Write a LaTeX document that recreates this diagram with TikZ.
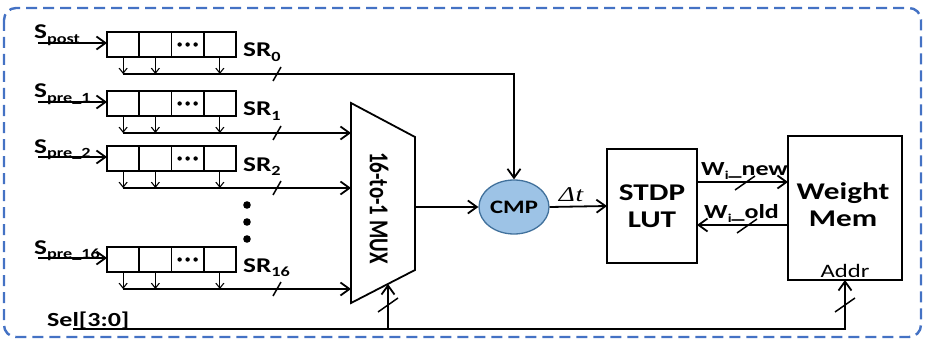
\documentclass[tikz,border=0pt]{standalone}
\usepackage{fontspec}
\setmainfont{Carlito}[FakeStretch=1.3]
\newfontfamily\muxfont{Carlito}
\newfontfamily\dtfont{Liberation Serif}
\usetikzlibrary{arrows.meta,calc,shapes.geometric}
\definecolor{frameblue}{RGB}{68,114,196}
\definecolor{cmpfill}{RGB}{157,195,230}
\definecolor{cmpline}{RGB}{65,113,156}
\newcommand\lowsub[2][14]{\raisebox{-0.22em}{\fontsize{#1}{#1}\selectfont #2}}
\begin{document}
\begin{tikzpicture}[x=1pt,y=-1pt,
  cell/.style={draw, line width=1.6pt, minimum width=32.25pt, minimum height=25pt, inner sep=0pt, outer sep=0pt},
  wire/.style={line width=1.8pt},
  arr/.style={wire, -{Straight Barb[length=9pt,width=13pt]}},
  tap/.style={line width=1.1pt, -{Straight Barb[length=5pt,width=8pt]}},
  blk/.style={draw, line width=1.8pt, inner sep=0pt, outer sep=0pt},
  slash/.style={line width=1.5pt},
  nslash/.pic={\draw[slash] (-4,7) -- (4,-7);},
  wslash/.pic={\draw[slash] (-10,7) -- (10,-7);},
  lbl/.style={inner sep=0pt, anchor=base west}]
\useasboundingbox (0,0) rectangle (927,345);
% frame
\draw[frameblue, line width=2.4pt, dash pattern=on 11pt off 6pt, rounded corners=12pt] (4,8) rectangle (921,337);
% shift register rows
\foreach \r/\t/\inl/\srl in {0/32/post/0,1/91/pre\_1/1,2/146/pre\_2/2,16/247/pre\_16/16}{
  \foreach \k in {1,2,3,4}
    \node[cell] (c\r-\k) at ({107+32.25*\k-16.125},{\t+12.5}) {};
  \foreach \dx in {-8,0,8}
    \fill ($(c\r-3)+(\dx,0)$) circle (2.2);
  \coordinate (in\r) at (38,{\t+11});
  \draw[arr] (in\r) -- (in\r -| c\r-1.west);
  \node[lbl] (inl\r) at (34,{\t+7}) {\fontsize{21}{21}\selectfont\bfseries S\lowsub{\inl}};
  \node[lbl] (srl\r) at (243,{\t+25}) {\fontsize{21}{21}\selectfont\bfseries SR\lowsub{\srl}};
  \coordinate (bus\r) at ({107+16.125},{\t+42});
  \foreach \k in {1,2,4}
    \draw[tap] (c\r-\k.south) -- (c\r-\k.south |- bus\r);
  \pic at (277,{\t+42}) {nslash};
}
% dots
\fill (247,205) circle (3.8);
\fill (247,222) circle (3.8);
\fill (247,239) circle (3.8);
% MUX
\coordinate (muxTL) at (351,103);
\coordinate (muxTR) at (415,137);
\coordinate (muxBR) at (415,270);
\coordinate (muxBL) at (351,303);
\coordinate (muxout) at (415,207);
\coordinate (muxsel) at (388,284);
\draw[wire, line join=miter] (muxTL) -- (muxTR) -- (muxBR) -- (muxBL) -- cycle;
\node[rotate=-90] (muxlbl) at (379,208) {\muxfont\bfseries\fontsize{21}{21}\selectfont\scalebox{1}[1.3]{16-to-1 MUX}};
\foreach \r in {1,2,16}
  \draw[arr] (bus\r) -- (bus\r -| muxTL);
% CMP
\node[ellipse, draw=cmpline, fill=cmpfill, line width=1.3pt, minimum width=70pt, minimum height=54pt, inner sep=0pt] (cmp) at (514,207) {\fontsize{19}{19}\selectfont\bfseries CMP};
\draw[arr] (bus0) -| (cmp.north);
\draw[arr] (muxout) -- (cmp.west);
% STDP LUT
\node[blk, minimum width=90pt, minimum height=114pt, align=center, font=\fontsize{24}{27}\selectfont\bfseries] (lut) at (652,206) {STDP\\LUT};
\draw[arr] (cmp.east) -- (lut.west);
\node (dt) at (571,195) {\dtfont\itshape\fontsize{21}{21}\selectfont\scalebox{1.3}[1]{Δ\kern0.5pt t}};
% Weight Mem
\node[blk, minimum width=114pt, minimum height=144pt] (wm) at (845,208) {};
\node[align=center, font=\fontsize{24}{27}\selectfont\bfseries] (wmtext) at (843,205) {Weight\\Mem};
\node[inner sep=0pt, anchor=base] (addr) at (845,277) {\fontsize{19}{19}\selectfont Addr};
\coordinate (wnewy) at (0,182);
\coordinate (woldy) at (0,225);
\draw[arr] (lut.east |- wnewy) -- (wm.west |- wnewy);
\draw[arr] (wm.west |- woldy) -- (lut.east |- woldy);
\pic at (745,183) {wslash};
\pic at (747,226) {wslash};
\node[lbl] (wnew) at (701,175) {\fontsize{20}{20}\selectfont\bfseries W\lowsub[12]{i}\_new};
\node[lbl] (wold) at (704,218) {\fontsize{20}{20}\selectfont\bfseries W\lowsub[12]{i}\_old};
% Sel
\node[lbl] (sel) at (47,326) {\fontsize{20}{20}\selectfont\bfseries Sel[3:0]};
\coordinate (selA) at (73,329);
\draw[arr] (selA) -| (wm.south);
\draw[arr] (muxsel |- selA) -- (muxsel);
\pic at (388,305) {wslash};
\pic at (845,305) {wslash};
\end{tikzpicture}
\end{document}
